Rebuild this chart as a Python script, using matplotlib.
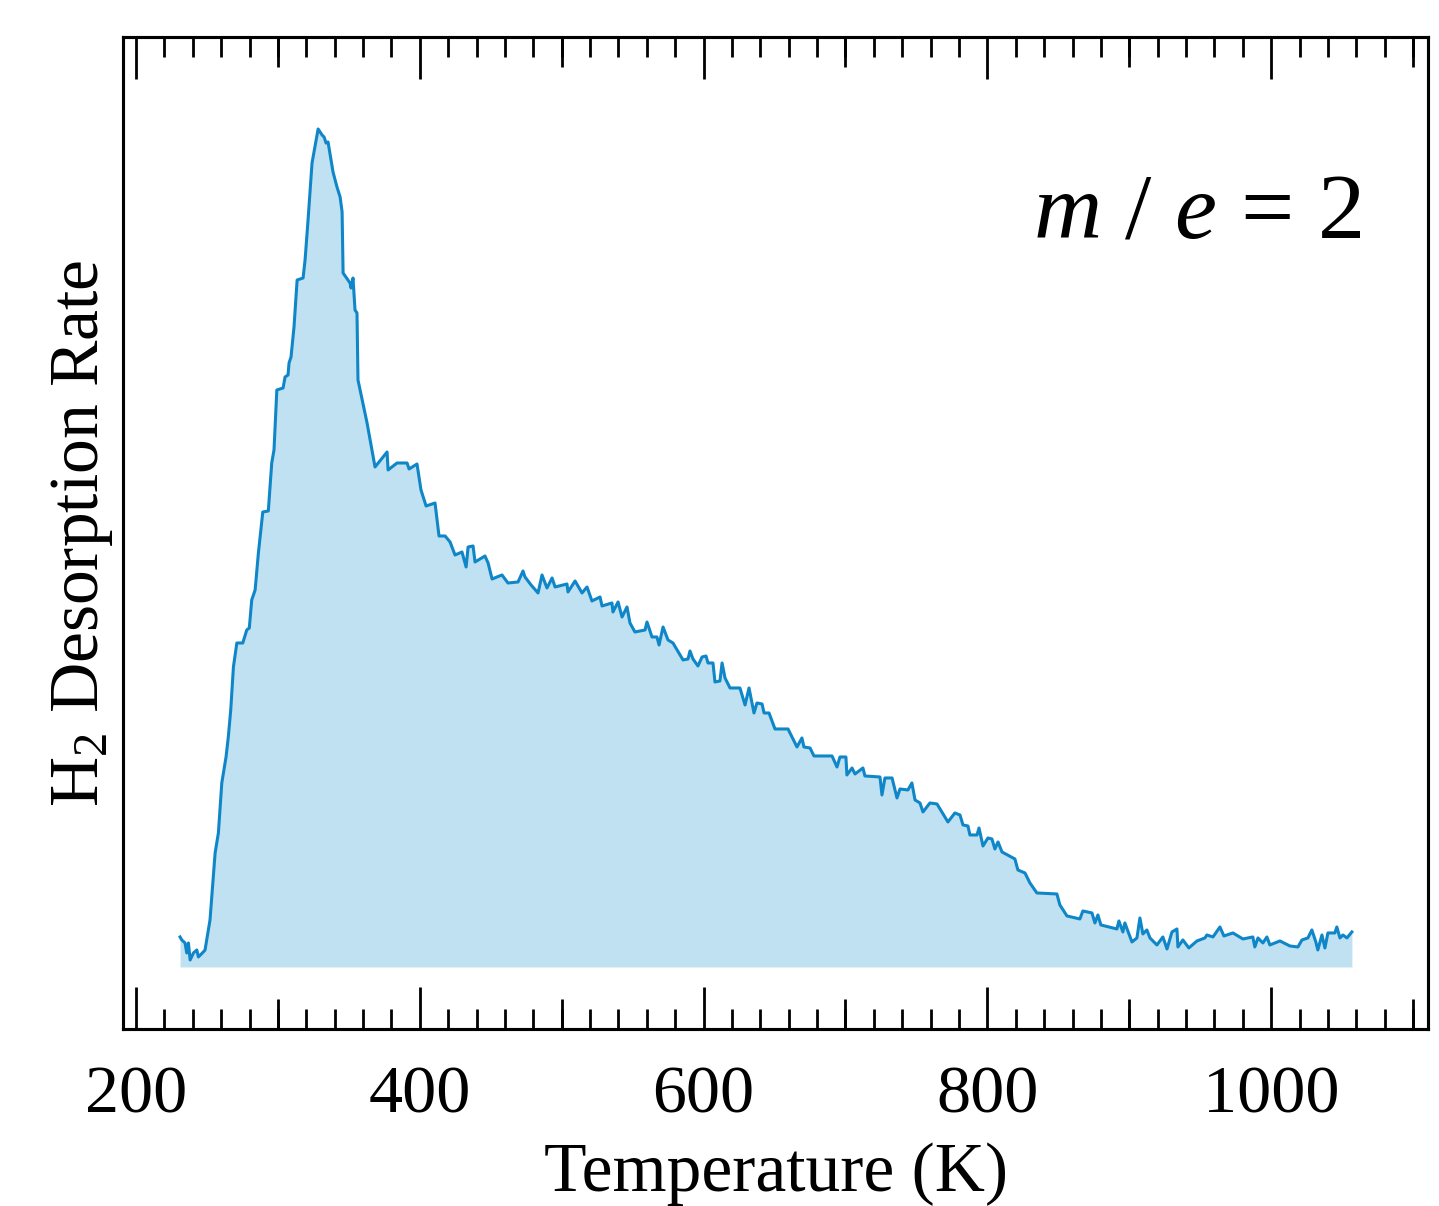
import matplotlib
matplotlib.use("Agg")
import matplotlib.pyplot as plt
from matplotlib.ticker import MultipleLocator, FixedLocator

plt.rcParams['font.family'] = ['Liberation Serif', 'DejaVu Serif']
plt.rcParams['mathtext.fontset'] = 'custom'
plt.rcParams['mathtext.rm'] = 'Liberation Serif'
plt.rcParams['mathtext.it'] = 'Liberation Serif:italic'
plt.rcParams['mathtext.default'] = 'rm'

# Temperature (K)
temperature = [
    231.0, 232.2, 234.5, 235.7, 236.9, 238.1, 240.4, 242.8, 243.9, 247.4,
    248.6, 252.1, 255.7, 258.0, 260.4, 263.4, 265.0, 266.7, 268.6, 271.0,
    275.2, 278.0, 279.8, 281.5, 283.9, 286.2, 289.3, 293.2, 295.6, 297.2,
    299.2, 303.6, 305.0, 307.1, 307.8, 309.2, 309.9, 311.3, 313.5, 317.7,
    319.1, 321.2, 324.0, 328.3, 331.1, 332.5, 333.9, 335.3, 338.8, 341.6,
    343.8, 345.2, 345.9, 350.8, 351.5, 352.9, 354.3, 355.7, 356.4, 362.8,
    368.4, 376.9, 377.6, 383.9, 391.0, 392.4, 398.0, 400.8, 404.4, 410.7,
    413.5, 417.8, 421.3, 424.8, 429.7, 432.6, 434.0, 437.5, 438.9, 445.9,
    448.1, 450.9, 457.9, 462.1, 469.2, 472.7, 474.1, 478.4, 483.3, 486.1,
    489.6, 493.2, 495.3, 503.7, 504.4, 509.4, 514.3, 517.8, 521.3, 527.0,
    528.4, 535.4, 536.1, 539.7, 542.5, 546.0, 548.1, 551.6, 558.7, 560.1,
    563.6, 567.1, 568.6, 571.4, 574.9, 578.4, 585.5, 589.0, 590.4, 592.5,
    596.0, 598.9, 601.7, 603.1, 606.6, 608.0, 611.5, 613.0, 615.1, 618.6,
    625.6, 629.2, 632.0, 635.5, 637.6, 641.2, 642.6, 646.1, 650.3, 659.5,
    663.0, 665.8, 669.3, 670.7, 675.0, 677.8, 690.5, 694.0, 696.1, 700.3,
    701.0, 704.6, 706.7, 712.3, 713.7, 724.3, 725.7, 727.8, 732.8, 736.3,
    738.4, 744.0, 746.8, 749.0, 752.5, 754.6, 759.5, 764.5, 772.2, 777.1,
    780.7, 782.8, 786.3, 787.7, 792.7, 794.1, 796.9, 800.4, 803.2, 805.3,
    807.5, 810.3, 819.4, 821.5, 826.5, 830.0, 834.9, 849.0, 851.1, 856.1,
    865.2, 867.3, 873.7, 875.8, 877.9, 880.0, 891.3, 892.7, 895.5, 896.9,
    901.9, 905.4, 907.5, 909.6, 912.4, 914.6, 919.5, 923.7, 926.6, 930.1,
    933.6, 934.3, 937.8, 942.0, 947.7, 953.3, 954.7, 959.0, 963.9, 966.7,
    973.1, 980.1, 987.1, 988.5, 990.7, 994.2, 997.0, 999.1, 1006.2, 1013.2,
    1018.9, 1021.7, 1025.9, 1028.7, 1031.5, 1032.9, 1035.8, 1037.9, 1040.0, 1044.9,
    1046.3, 1048.5, 1050.6, 1053.4, 1056.9,
]

# H2 desorption rate (arbitrary units)
rate = [
    30, 27, 24, 14, 24, 7, 14, 17, 10, 15,
    17, 47, 114, 134, 184, 210, 230, 257, 300, 324,
    324, 337, 339, 367, 377, 414, 455, 456, 504, 517,
    577, 579, 590, 592, 604, 610, 620, 640, 687, 689,
    707, 747, 804, 838, 832, 830, 824, 825, 795, 780,
    770, 755, 694, 684, 679, 689, 657, 654, 587, 544,
    500, 515, 497, 504, 504, 498, 503, 477, 461, 464,
    431, 431, 425, 412, 415, 400, 420, 421, 405, 411,
    404, 388, 392, 384, 385, 396, 390, 382, 374, 392,
    379, 389, 380, 383, 375, 386, 374, 380, 366, 370,
    361, 364, 355, 365, 350, 360, 344, 335, 337, 345,
    330, 330, 322, 340, 327, 324, 307, 308, 316, 308,
    301, 310, 311, 304, 304, 285, 286, 304, 289, 279,
    279, 262, 279, 254, 264, 263, 254, 254, 238, 238,
    228, 220, 229, 220, 219, 211, 211, 200, 210, 210,
    192, 199, 193, 199, 191, 190, 172, 189, 189, 169,
    178, 177, 184, 167, 164, 155, 164, 163, 145, 154,
    152, 142, 141, 132, 132, 139, 121, 129, 128, 118,
    125, 115, 108, 97, 94, 84, 74, 73, 62, 51,
    48, 56, 54, 44, 52, 42, 38, 46, 35, 44,
    25, 29, 49, 33, 37, 29, 22, 30, 18, 35,
    38, 20, 27, 19, 26, 29, 32, 30, 40, 31,
    34, 28, 30, 20, 29, 24, 30, 22, 26, 21,
    20, 27, 29, 37, 25, 17, 32, 19, 34, 34,
    40, 29, 32, 29, 35,
]

major_ticks = [200, 400, 600, 800, 1000]
medium_ticks = [300, 500, 700, 900, 1100]
tick_labels = ['200', '400', '600', '800', '1000']

line_color = '#0f86c8'
fill_color = '#bfe1f2'

fig = plt.figure(figsize=(14.39, 12.06), dpi=100)
ax = fig.add_axes([0.0855, 0.1468, 0.9069, 0.8225])

ax.fill_between(temperature, 0, rate, color=fill_color, linewidth=0)
ax.plot(temperature, rate, color=line_color, linewidth=2.2)

ax.set_xlim(190.8, 1110.6)
ax.set_ylim(-62, 930)
ax.set_yticks([])

ax2 = ax.twiny()
ax2.set_xlim(ax.get_xlim())
ax2.xaxis.set_major_locator(FixedLocator(medium_ticks))
ax2.xaxis.set_minor_locator(FixedLocator([]))
ax2.tick_params(axis='x', which='major', direction='in', length=21.6, width=2.0,
                top=True, bottom=True, labeltop=False, labelbottom=False)
for s in ax2.spines.values():
    s.set_linewidth(2.2)

ax.xaxis.set_major_locator(FixedLocator(major_ticks))
ax.set_xticklabels(tick_labels)
ax.xaxis.set_minor_locator(MultipleLocator(20))
ax.tick_params(axis='x', which='major', direction='in', length=30.5, width=2.0,
               top=True, bottom=True, labelsize=49, pad=26,
               labelbottom=True, labeltop=False)
ax.tick_params(axis='x', which='minor', direction='in', length=14.4, width=2.0,
               top=True, bottom=True)
for s in ax.spines.values():
    s.set_linewidth(2.2)

ax.set_xlabel('Temperature (K)', fontsize=50, labelpad=12)
ax.set_ylabel(r'H$_2$ Desorption Rate', fontsize=50, labelpad=6)

ax.text(0.949, 0.798, r'$\mathit{m}$ / $\mathit{e}$ = 2', transform=ax.transAxes,
        ha='right', va='baseline', fontsize=68)

fig.savefig('out.png', dpi=100)
